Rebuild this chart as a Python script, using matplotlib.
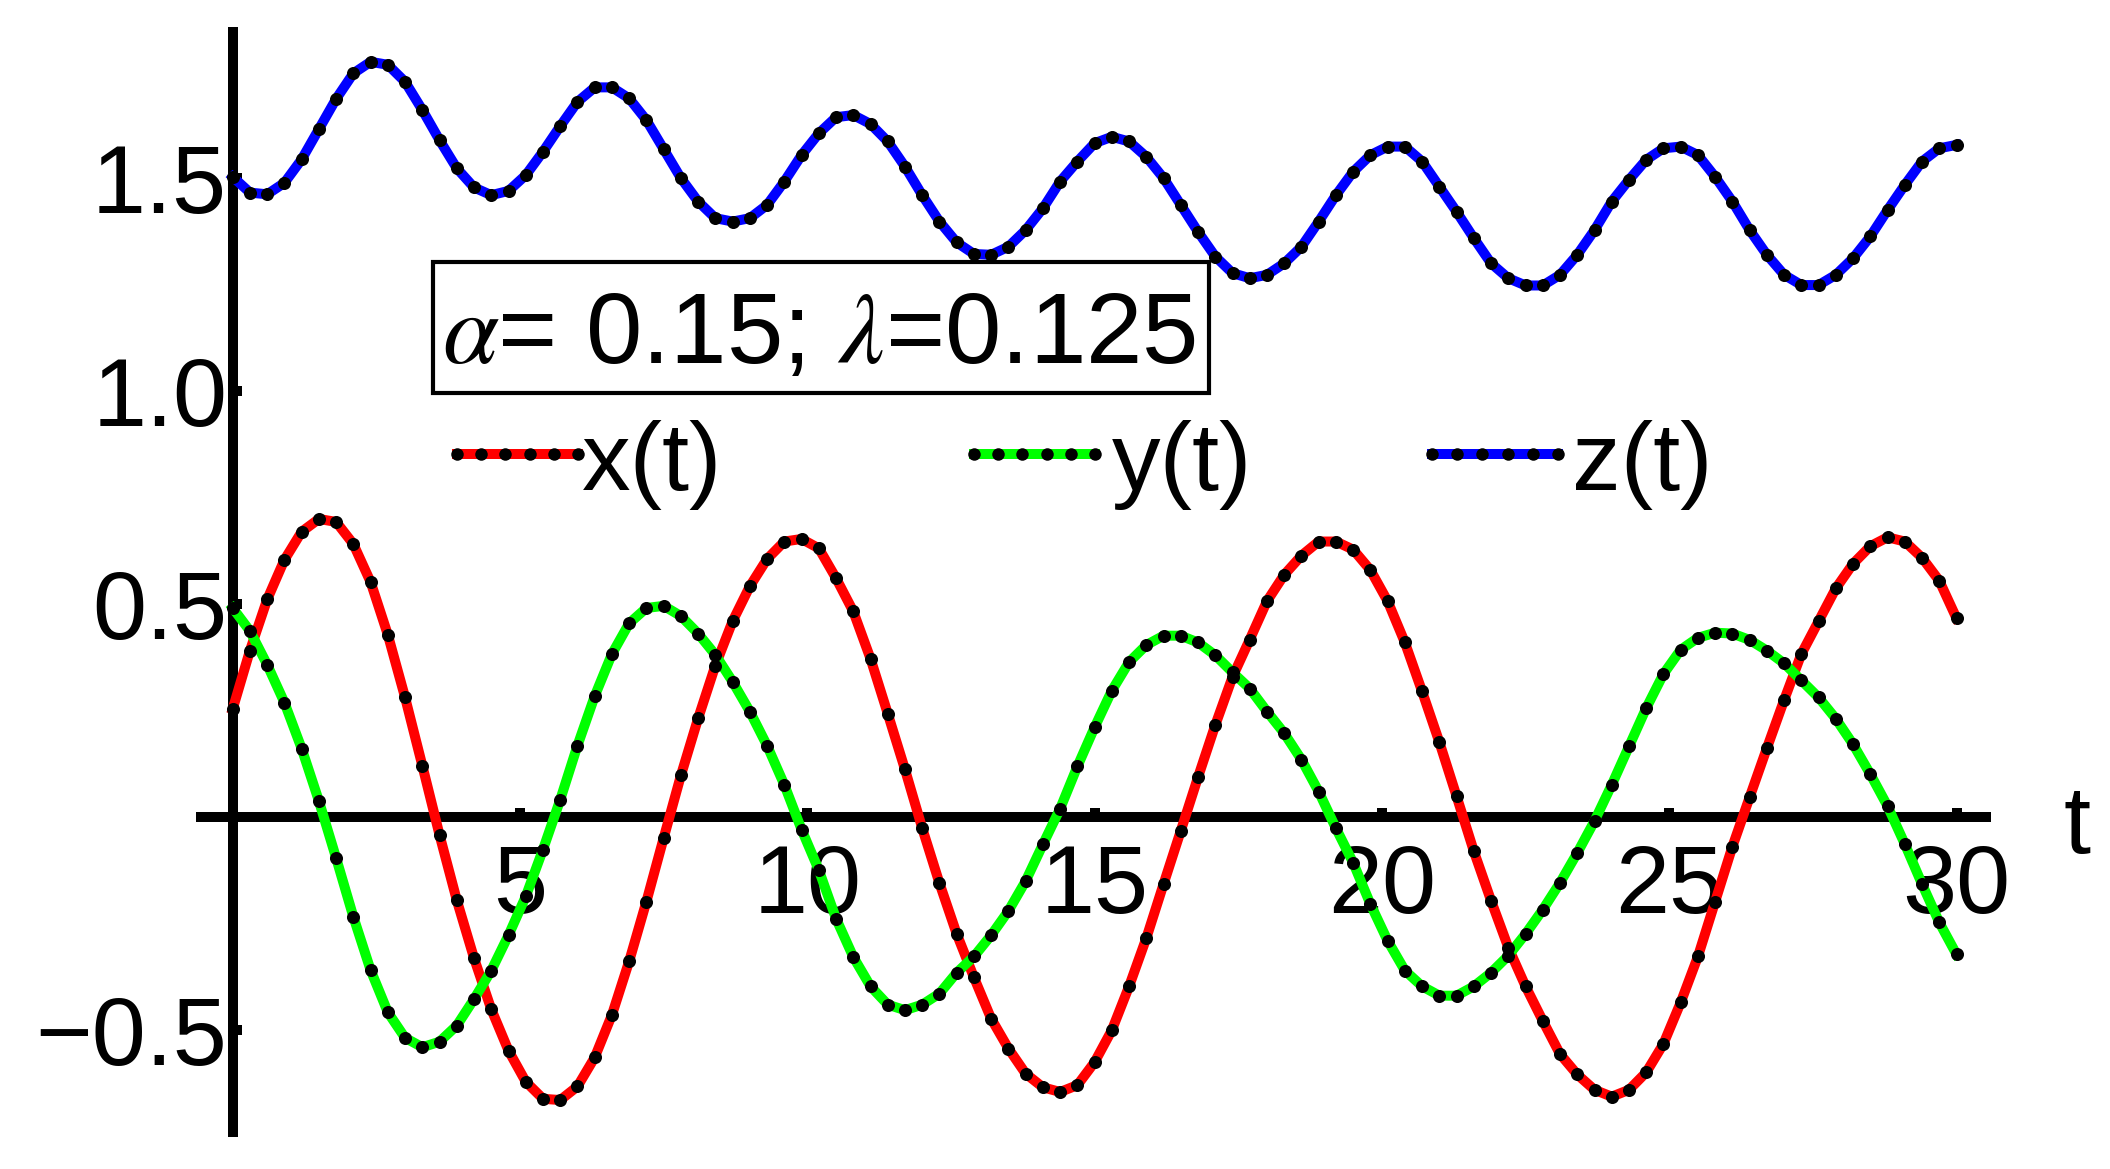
import matplotlib
matplotlib.use("Agg")
import matplotlib.pyplot as plt
from matplotlib.lines import Line2D
from matplotlib.patches import Rectangle
import numpy as np

plt.rcParams['font.family'] = ['Liberation Sans', 'DejaVu Sans']
plt.rcParams['mathtext.fontset'] = 'stix'

# sample times of the black dots (t = 0, 0.3, ..., 30)
t = np.linspace(0, 30, 101)

x_t = [0.253, 0.390, 0.510, 0.603, 0.669, 0.699, 0.692, 0.640, 0.551, 0.427,
       0.280, 0.120, -0.043, -0.196, -0.332, -0.452, -0.549, -0.622, -0.662, -0.665,
       -0.633, -0.565, -0.465, -0.339, -0.199, -0.050, 0.097, 0.231, 0.355, 0.459,
       0.541, 0.605, 0.646, 0.652, 0.630, 0.560, 0.482, 0.371, 0.242, 0.111,
       -0.027, -0.156, -0.275, -0.377, -0.474, -0.544, -0.603, -0.635, -0.646, -0.630,
       -0.576, -0.501, -0.398, -0.285, -0.158, -0.033, 0.093, 0.215, 0.328, 0.416,
       0.506, 0.568, 0.613, 0.646, 0.646, 0.627, 0.579, 0.506, 0.409, 0.294,
       0.175, 0.048, -0.081, -0.197, -0.307, -0.398, -0.479, -0.557, -0.605, -0.641,
       -0.657, -0.641, -0.600, -0.533, -0.436, -0.328, -0.199, -0.070, 0.046, 0.161,
       0.274, 0.382, 0.459, 0.536, 0.594, 0.635, 0.656, 0.646, 0.608, 0.554,
       0.466]

y_t = [0.490, 0.436, 0.357, 0.268, 0.160, 0.037, -0.097, -0.235, -0.360, -0.459,
       -0.519, -0.541, -0.528, -0.490, -0.428, -0.361, -0.278, -0.187, -0.077, 0.040,
       0.167, 0.283, 0.382, 0.454, 0.490, 0.495, 0.471, 0.430, 0.380, 0.317,
       0.247, 0.167, 0.075, -0.030, -0.125, -0.239, -0.329, -0.398, -0.441, -0.454,
       -0.441, -0.415, -0.366, -0.328, -0.278, -0.221, -0.151, -0.065, 0.019, 0.118,
       0.210, 0.296, 0.363, 0.403, 0.425, 0.425, 0.409, 0.379, 0.339, 0.301,
       0.247, 0.196, 0.134, 0.059, -0.027, -0.108, -0.205, -0.291, -0.361, -0.398,
       -0.420, -0.420, -0.398, -0.366, -0.326, -0.275, -0.218, -0.155, -0.085, -0.010,
       0.075, 0.165, 0.255, 0.335, 0.392, 0.420, 0.432, 0.430, 0.415, 0.390,
       0.360, 0.320, 0.280, 0.230, 0.170, 0.100, 0.025, -0.064, -0.158, -0.248,
       -0.323]

z_t = [1.502, 1.465, 1.461, 1.488, 1.543, 1.614, 1.685, 1.745, 1.772, 1.765,
       1.725, 1.659, 1.588, 1.522, 1.477, 1.459, 1.469, 1.506, 1.561, 1.621,
       1.678, 1.712, 1.712, 1.686, 1.635, 1.567, 1.499, 1.444, 1.405, 1.397,
       1.405, 1.436, 1.491, 1.553, 1.604, 1.642, 1.647, 1.626, 1.585, 1.526,
       1.459, 1.397, 1.348, 1.321, 1.319, 1.338, 1.377, 1.428, 1.491, 1.538,
       1.581, 1.596, 1.585, 1.549, 1.499, 1.436, 1.373, 1.315, 1.276, 1.264,
       1.272, 1.299, 1.338, 1.397, 1.459, 1.514, 1.553, 1.573, 1.573, 1.538,
       1.479, 1.420, 1.358, 1.299, 1.264, 1.247, 1.247, 1.272, 1.319, 1.377,
       1.444, 1.495, 1.542, 1.569, 1.573, 1.553, 1.502, 1.444, 1.377, 1.319,
       1.272, 1.248, 1.248, 1.272, 1.311, 1.362, 1.424, 1.483, 1.538, 1.569,
       1.577]

series_labels = ['x(t)', 'y(t)', 'z(t)']
series_colors = ['#ff0000', '#00ff00', '#0000ff']

xtick_vals = [5, 10, 15, 20, 25, 30]
xtick_labels = ['5', '10', '15', '20', '25', '30']
ytick_vals = [-0.5, 0.5, 1.0, 1.5]
ytick_labels = ['\u22120.5', '0.5', '1.0', '1.5']

W, H = 2110, 1169
FS = 70

fig = plt.figure(figsize=(W / 100, H / 100), dpi=100)
ax = fig.add_axes([196 / W, 1 - 1136.7 / H, (1990.7 - 196) / W, (1136.7 - 27.3) / H])
ax.patch.set_visible(False)
ax.set_xlim(-0.639, 30.595)
ax.set_ylim(-0.751, 1.853)

for vals, col in zip([x_t, y_t, z_t], series_colors):
    ax.plot(t, vals, color=col, lw=7.2, solid_joinstyle='round', zorder=3)
for vals in [x_t, y_t, z_t]:
    ax.plot(t, vals, ls='none', marker='o', ms=9.4, mfc='black', mec='black', mew=0, zorder=4)

# axes through the origin
for s in ['top', 'right']:
    ax.spines[s].set_visible(False)
for s in ['left', 'bottom']:
    ax.spines[s].set_position(('data', 0))
    ax.spines[s].set_linewidth(7.2)
    ax.spines[s].set_capstyle('butt')

ax.set_xticks(xtick_vals)
ax.set_xticklabels(xtick_labels)
ax.set_yticks(ytick_vals)
ax.set_yticklabels(ytick_labels)
ax.tick_params(axis='both', direction='in', length=6.5, width=7.2, labelsize=FS)
ax.tick_params(axis='x', pad=19)
ax.tick_params(axis='y', pad=4)

fig.text(2077 / W, 1 - 853 / H, 't', ha='center', va='baseline', fontsize=FS)

# parameter box
fig.add_artist(Rectangle((433 / W, 1 - 393 / H), (1209 - 433) / W, (393 - 262) / H,
                         transform=fig.transFigure, fill=False, lw=3, ec='black'))
fig.text(819 / W, 1 - 363 / H, r'$\alpha$= 0.15; $\lambda$=0.125',
         ha='center', va='baseline', fontsize=73)

# legend row
leg_x = [(457, 578, 582), (974, 1095, 1112), (1432, 1558, 1572)]
ly = 1 - 454 / H
for (x0, x1, tx), lab, col in zip(leg_x, series_labels, series_colors):
    fig.add_artist(Line2D([x0 / W, x1 / W], [ly, ly], transform=fig.transFigure,
                          color=col, lw=7.2))
    fig.add_artist(Line2D(np.linspace(x0, x1, 6) / W, [ly] * 6, transform=fig.transFigure,
                          ls='none', marker='o', ms=9, mfc='black', mec='black', mew=0))
    fig.text(tx / W, 1 - 490 / H, lab, ha='left', va='baseline', fontsize=FS)

fig.savefig('out.png', dpi=100)
